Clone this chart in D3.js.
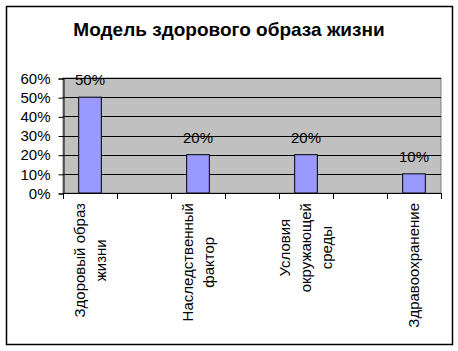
<!DOCTYPE html>
<html>
<head>
<meta charset="utf-8">
<script src="https://cdn.jsdelivr.net/npm/d3@7"></script>
<style>
  body { margin: 0; background: #fff; }
  text { font-family: "Liberation Sans", Arial, sans-serif; }
</style>
</head>
<body>
<svg id="chart" width="458" height="351"></svg>
<script>
var categories = ["Здоровый образ\nжизни", "", "Наследственный\nфактор", "", "Условия\nокружающей\nсреды", "", "Здравоохранение"];
var values = [0.5, null, 0.2, null, 0.2, null, 0.1];
var yTicks = [0, 0.1, 0.2, 0.3, 0.4, 0.5, 0.6];
var title = "Модель здорового образа жизни";

InitChart();

function InitChart() {
  var viz = d3.select("#chart"),
    PLOT = { left: 63, right: 441, top: 78, bottom: 193 },
    xRange = d3.scaleBand().range([PLOT.left, PLOT.right]).padding(0).domain(d3.range(categories.length)),
    yRange = d3.scaleLinear().range([PLOT.bottom, PLOT.top]).domain([0, 0.6]),
    pct = d3.format(".0%");

  // outer frame
  viz.append("rect")
    .attr("x", 6.5).attr("y", 6.5)
    .attr("width", 446).attr("height", 338)
    .attr("fill", "#fff").attr("stroke", "#000").attr("stroke-width", 1.5);

  viz.append("text")
    .attr("x", 229).attr("y", 36)
    .attr("text-anchor", "middle")
    .attr("font-size", 19).attr("font-weight", "bold")
    .text(title);

  // plot area
  viz.append("rect")
    .attr("x", PLOT.left).attr("y", PLOT.top)
    .attr("width", PLOT.right - PLOT.left).attr("height", PLOT.bottom - PLOT.top)
    .attr("fill", "#c0c0c0").attr("stroke", "#808080");

  viz.append("g").selectAll("line")
    .data(yTicks.slice(1))
    .enter().append("line")
    .attr("x1", PLOT.left).attr("x2", PLOT.right)
    .attr("y1", function(d) { return Math.round(yRange(d)) + 0.5; })
    .attr("y2", function(d) { return Math.round(yRange(d)) + 0.5; })
    .attr("stroke", "#000");

  var yAxis = d3.axisLeft(yRange).tickValues(yTicks).tickFormat(pct).tickSize(5).tickPadding(8);
  var gy = viz.append("g")
    .attr("transform", "translate(" + (PLOT.left + 0.5) + ",0.5)")
    .call(yAxis);
  gy.selectAll("text").attr("font-size", 15).attr("fill", "#000").attr("font-family", "Liberation Sans, Arial, sans-serif");
  gy.selectAll("line, path").attr("stroke", "#000");

  // x axis with ticks at band boundaries
  var bounds = d3.range(categories.length + 1).map(function(i) {
    return i < categories.length ? xRange(i) : xRange(categories.length - 1) + xRange.bandwidth();
  });
  viz.append("line")
    .attr("x1", PLOT.left).attr("x2", PLOT.right)
    .attr("y1", PLOT.bottom + 0.5).attr("y2", PLOT.bottom + 0.5)
    .attr("stroke", "#000");
  viz.append("g").selectAll("line")
    .data(bounds)
    .enter().append("line")
    .attr("x1", function(d) { return Math.round(d) + 0.5; })
    .attr("x2", function(d) { return Math.round(d) + 0.5; })
    .attr("y1", PLOT.bottom).attr("y2", PLOT.bottom + 6)
    .attr("stroke", "#000");

  var barW = xRange.bandwidth() * 0.42;
  var data = values.map(function(v, i) { return { i: i, v: v }; }).filter(function(d) { return d.v != null; });

  viz.selectAll("rect.bar")
    .data(data)
    .enter().append("rect")
    .attr("class", "bar")
    .attr("x", function(d) { return xRange(d.i) + (xRange.bandwidth() - barW) / 2; })
    .attr("y", function(d) { return yRange(d.v); })
    .attr("width", barW)
    .attr("height", function(d) { return PLOT.bottom - yRange(d.v); })
    .attr("fill", "#9999ff").attr("stroke", "#000");

  viz.selectAll("text.val")
    .data(data)
    .enter().append("text")
    .attr("class", "val")
    .attr("x", function(d) { return xRange(d.i) + xRange.bandwidth() / 2; })
    .attr("y", function(d) { return yRange(d.v) - 12; })
    .attr("text-anchor", "middle").attr("font-size", 15)
    .text(function(d) { return pct(d.v); });

  // rotated multi-line category labels
  var top = 203, lineH = 21;
  categories.forEach(function(c, i) {
    if (!c) return;
    var lines = c.split("\n");
    var cx = xRange(i) + xRange.bandwidth() / 2;
    var g = viz.append("g").attr("transform", "translate(" + cx + "," + top + ") rotate(-90)");
    var texts = g.selectAll("text")
      .data(lines)
      .enter().append("text")
      .attr("font-size", 15)
      .attr("text-anchor", "middle")
      .attr("dy", function(d, k) { return (k - (lines.length - 1) / 2) * lineH + 5; })
      .text(function(d) { return d; });
    var maxL = d3.max(texts.nodes(), function(n) { return n.getComputedTextLength(); });
    texts.attr("x", -maxL / 2);
  });
}
</script>
</body>
</html>
